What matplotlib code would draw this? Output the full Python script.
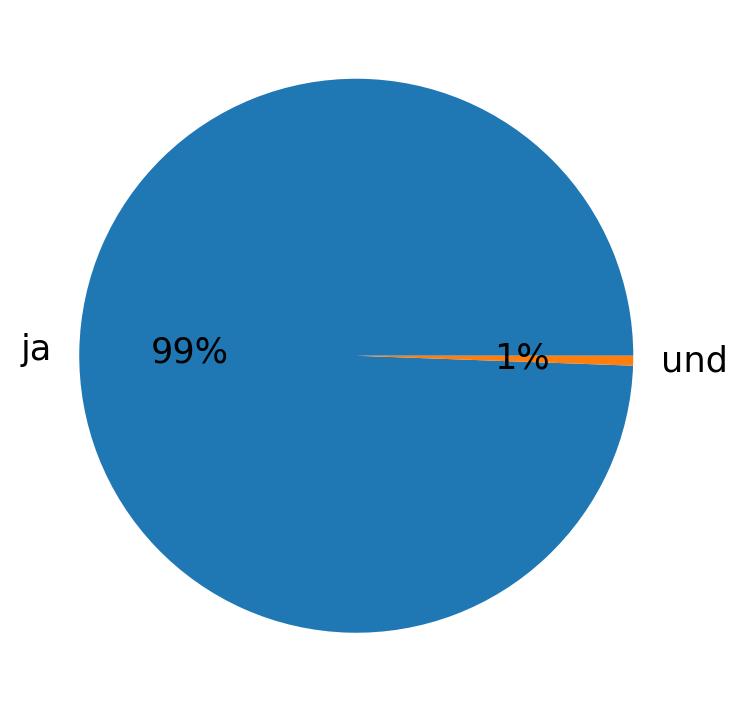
import matplotlib
matplotlib.use("Agg")
import matplotlib.pyplot as plt

# answer counts
labels = ["ja", "und"]
counts = [174, 1]

fig = plt.figure(figsize=(7.37, 7.13), dpi=100)
ax = fig.add_axes([10 / 737, 11 / 713, 692.5 / 737, 692.5 / 713])
ax.pie(counts, labels=labels, autopct="%1.0f%%", textprops={"fontsize": 25.3})
ax.set_xlim(-1.25, 1.25)
ax.set_ylim(-1.25, 1.25)

fig.savefig("out.png", dpi=100)
